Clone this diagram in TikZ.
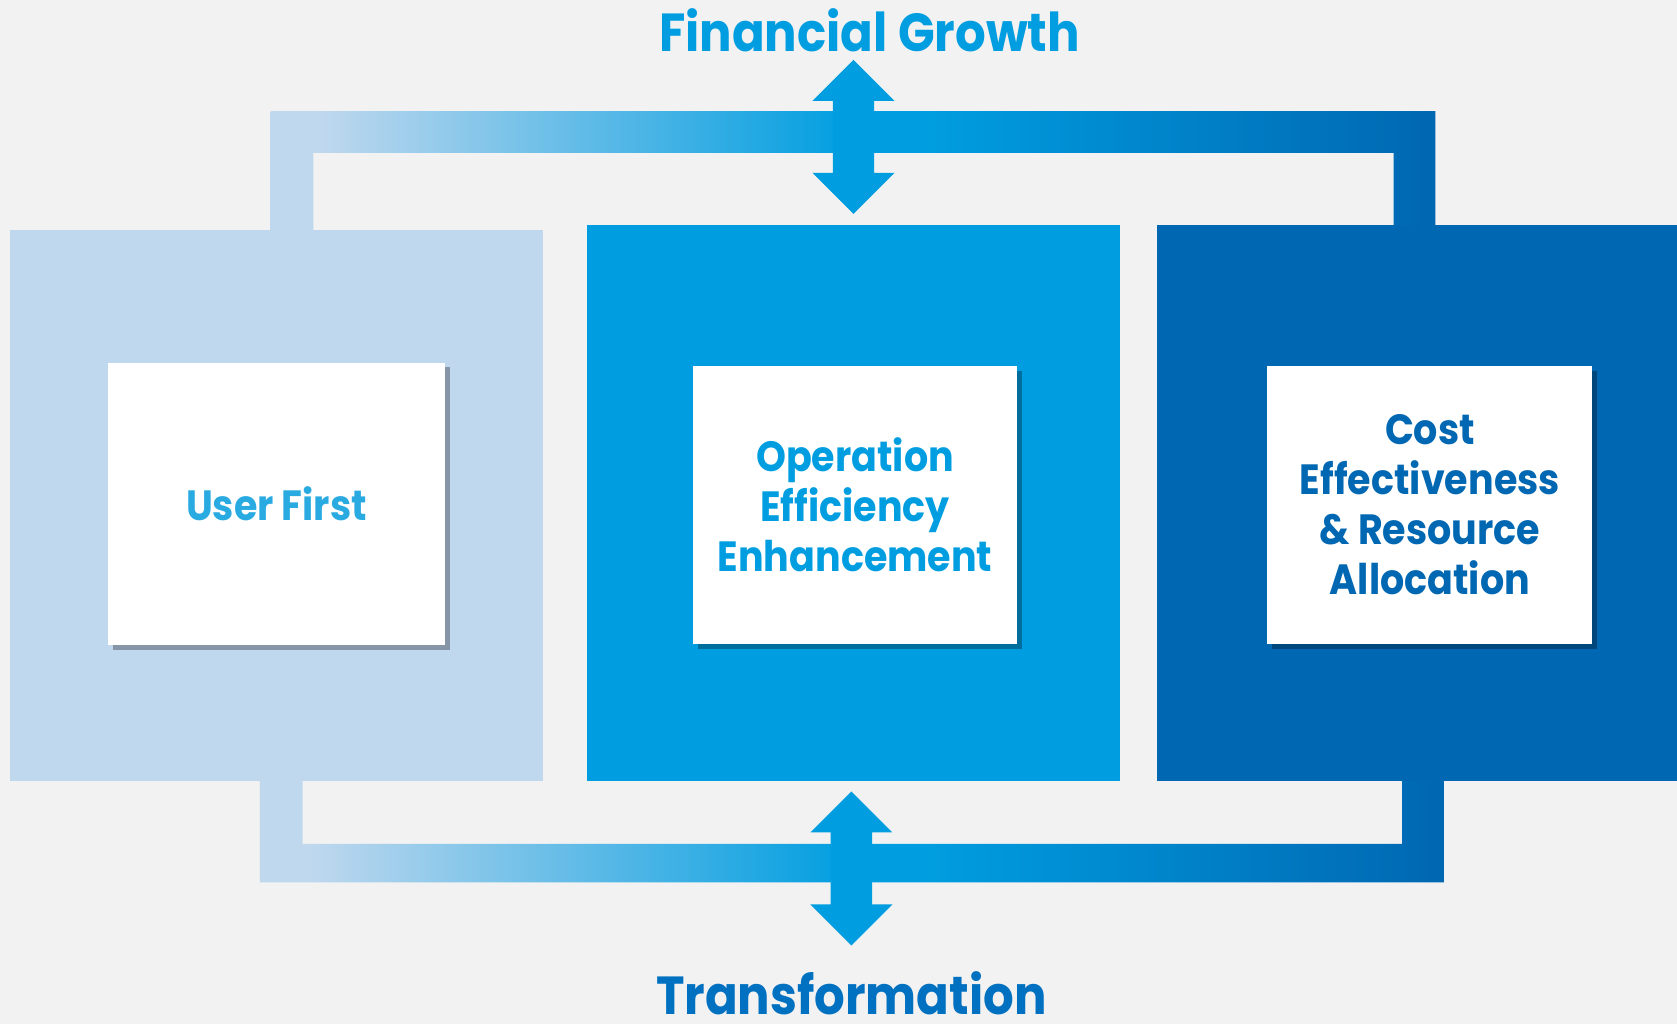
\documentclass[tikz,border=0pt]{standalone}
\usepackage{fontspec}
\setmainfont{Poppins}[FakeStretch=0.9]
\usepackage{tikz}
\usetikzlibrary{positioning,shapes.arrows,shadows,backgrounds}

\definecolor{pagebg}{HTML}{F2F2F2}
\definecolor{icyblue}{RGB}{192,216,238}
\definecolor{skyblue}{RGB}{0,158,224}
\definecolor{deepblue}{RGB}{0,103,178}
\definecolor{lightcyan}{RGB}{41,171,226}
\definecolor{oceanblue}{RGB}{0,112,192}

% light on the left, cyan in the middle, dark on the right
\pgfdeclarehorizontalshading{bandgrad}{100bp}{color(0bp)=(icyblue); color(25bp)=(icyblue); color(27bp)=(icyblue); color(50bp)=(skyblue); color(53bp)=(skyblue); color(75bp)=(deepblue); color(100bp)=(deepblue)}

\begin{document}
\begin{tikzpicture}[
x=0.02cm, y=-0.02cm,
panel/.style={rectangle, inner sep=0pt, outer sep=0pt},
card/.style={rectangle, fill=white, inner sep=0pt, align=center, font=\fontsize{22.5}{26.7}\selectfont\bfseries, drop shadow={shadow xshift=0.09cm, shadow yshift=-0.09cm, fill=black, opacity=0.3}},
heading/.style={anchor=base, inner sep=0pt, font=\fontsize{28.5}{34}\selectfont\bfseries},
dblarrow/.style={double arrow, fill=skyblue, rotate=90, inner sep=0.38cm, minimum height=2.88cm, minimum width=1.52cm, double arrow head extend=0.38cm},
band/.style={shading=bandgrad}
]
\useasboundingbox (0,0) rectangle (1568,957);

% three coloured panels
\node[panel, fill=icyblue, minimum width=9.98cm, minimum height=10.3cm] (lft) at (258.5,472.5) {};
\node[panel, fill=skyblue, minimum width=9.96cm, minimum height=10.4cm] (mid) at (798,470) {};
\node[panel, fill=deepblue, minimum width=9.72cm, minimum height=10.4cm] (rgt) at (1325,470) {};

% white cards
\node[card, text=lightcyan, minimum width=6.3cm, minimum height=5.28cm] (user) at (258.5,471) {User First};
\node[card, text=skyblue, minimum width=6.06cm, minimum height=5.2cm] (ops) at (799.5,472) {Operation\\Efficiency\\Enhancement};
\node[card, text=deepblue, minimum width=6.08cm, minimum height=5.2cm] (cost) at (1337,472) {Cost\\Effectiveness\\\& Resource\\Allocation};

% bands behind the panels
\begin{scope}[on background layer]
\fill[pagebg] (0,0) rectangle (1568,957);
\shade[band] (253,0 |- lft.center) -- (253,104) -- (1342,104) -- (1342,0 |- rgt.center)
  -- (1303,0 |- rgt.center) -- (1303,143) -- (293,143) -- (293,0 |- lft.center) -- cycle;
\shade[band] (243,0 |- lft.center) -- (243,825) -- (1350,825) -- (1350,0 |- rgt.center)
  -- (1311,0 |- rgt.center) -- (1311,789) -- (283,789) -- (283,0 |- lft.center) -- cycle;
\end{scope}

% double arrows and their labels
\node[dblarrow] (uparrow) at (798,128) {};
\node[dblarrow] (downarrow) at (796,812) {};
\node[heading, text=skyblue] (growth) at (813,48) {Financial Growth};
\node[heading, text=oceanblue] (change) at (796,949) {Transformation};
\end{tikzpicture}
\end{document}
